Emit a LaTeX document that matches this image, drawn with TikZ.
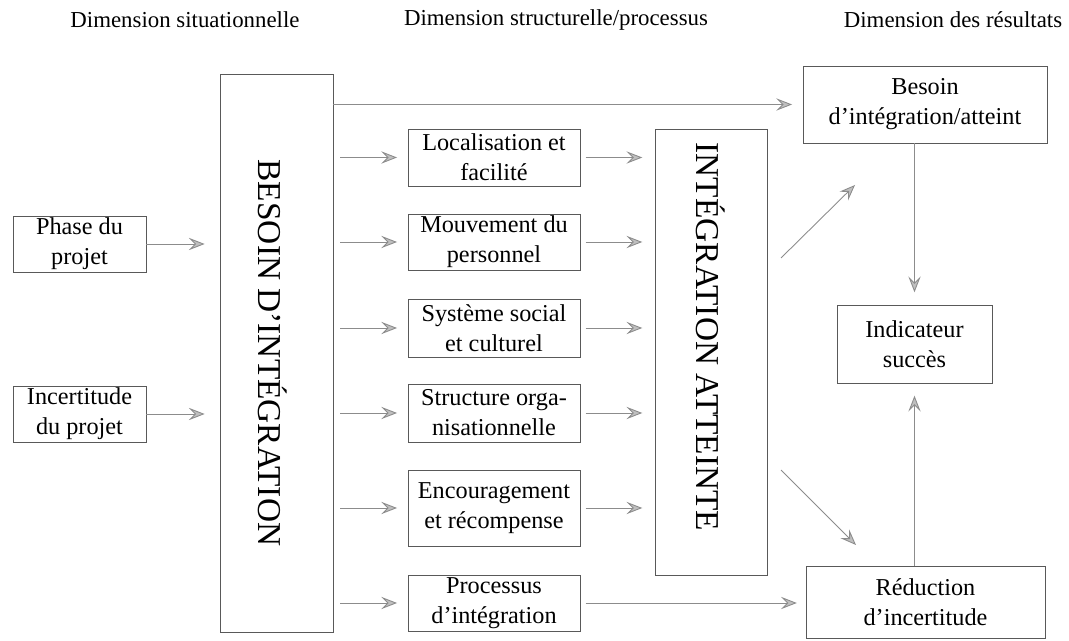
\documentclass[tikz,border=0pt]{standalone}
\usepackage{fontspec}
\setmainfont{Liberation Serif}
\usepackage{tikz}
\usetikzlibrary{arrows.meta}

\tikzset{
  box/.style={draw=black!65, line width=0.5pt, align=center, inner sep=1pt,
    font=\fontsize{13.8}{17}\selectfont},
  bigtext/.style={rotate=-90, font=\fontsize{19}{21}\selectfont},
  header/.style={font=\fontsize{13}{15}\selectfont},
  flow/.style={draw=black!45, line width=0.5pt,
    -{Stealth[length=9pt, width=7pt, inset=3.5pt, color=black!45, fill=black!25]}}
}

\begin{document}
\begin{tikzpicture}[x=0.02cm, y=-0.02cm]
		\useasboundingbox (0,0) rectangle (1069,641);

		% Headers
		\node[header] (hsit) at (185,20) {Dimension situationnelle};
		\node[header] (hstr) at (556,20) {Dimension structurelle/processus};
		\node[header] (hres) at (953,20) {Dimension des résultats};

		% Situational dimension
		\node[box, minimum width=2.66cm, minimum height=1.12cm] (phase) at (79.5,244) {Phase du\\projet};
		\node[box, minimum width=2.66cm, minimum height=1.12cm] (incert) at (79.5,414) {Incertitude\\du projet};
		\node[box, minimum width=2.26cm, minimum height=11.16cm] (besoin) at (276.5,353) {};
		\node[bigtext] (besointxt) at (273,353) {BESOIN D'INTÉGRATION};

		% Structure / process dimension
		\node[box, minimum width=3.44cm, minimum height=1.14cm] (loc) at (494,157.5) {Localisation et\\facilité};
		\node[box, minimum width=3.44cm, minimum height=1.12cm] (mouv) at (494,242) {Mouvement du\\personnel};
		\node[box, minimum width=3.44cm, minimum height=1.16cm] (sys) at (494,328) {Système social\\et culturel};
		\node[box, minimum width=3.44cm, minimum height=1.16cm] (struct) at (494,413) {Structure orga-\\nisationnelle};
		\node[box, minimum width=3.44cm, minimum height=1.52cm] (enc) at (494,508) {Encouragement\\et récompense};
		\node[box, minimum width=3.44cm, minimum height=1.12cm] (proc) at (494,603) {Processus\\d'intégration};
		\node[box, minimum width=2.24cm, minimum height=8.92cm] (integ) at (711,352) {};
		\node[bigtext] (integtxt) at (711,337) {INTÉGRATION ATTEINTE};

		% Results dimension
		\node[box, minimum width=4.88cm, minimum height=1.54cm] (atteint) at (925,104.5) {Besoin\\d'intégration/atteint};
		\node[box, minimum width=3.10cm, minimum height=1.56cm] (indic) at (914.5,344) {Indicateur\\succès};
		\node[box, minimum width=4.78cm, minimum height=1.44cm] (reduc) at (925.5,602) {Réduction\\d'incertitude};

		% Arrows
		\draw[flow, shorten >=8.5pt] (phase.east) -- (besoin.west |- phase);
		\draw[flow, shorten >=8.5pt] (incert.east) -- (besoin.west |- incert);
		\foreach \n in {loc, mouv, sys, struct, enc, proc}
			\draw[flow, shorten <=4pt, shorten >=6pt] (besoin.east |- \n) -- (\n.west);
		\foreach \n in {loc, mouv, sys, struct, enc}
			\draw[flow, shorten <=3pt, shorten >=7pt] (\n.east) -- (integ.west |- \n);
		\draw[flow, shorten >=6pt] (besoin.east |- atteint) -- (atteint.west);
		\draw[flow, shorten <=3pt, shorten >=5pt] (proc.east) -- (reduc.west |- proc);
		\draw[flow, shorten >=7pt] (indic.north |- atteint.south) -- (indic.north);
		\draw[flow, shorten >=7pt] (reduc.north -| indic) -- (indic.south);
		\coordinate (up1) at (781,258);
		\coordinate (up2) at (855,185);
		\coordinate (dn1) at (781,470);
		\coordinate (dn2) at (856,545);
		\draw[flow] (up1) -- (up2);
		\draw[flow] (dn1) -- (dn2);
	\end{tikzpicture}
\end{document}
